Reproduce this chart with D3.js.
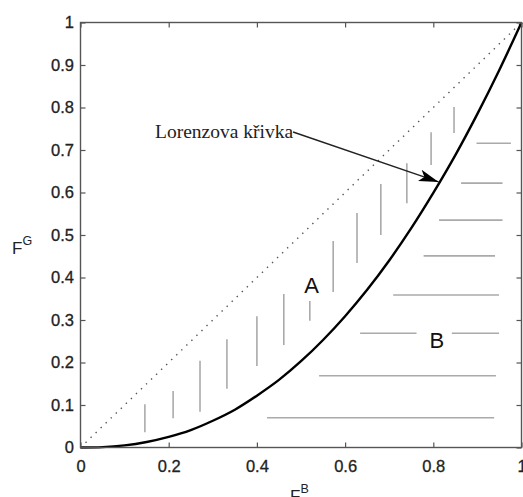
<!DOCTYPE html>
<html>
<head>
<meta charset="utf-8">
<script src="https://cdn.jsdelivr.net/npm/d3@7"></script>
<style>
  html, body { margin: 0; padding: 0; background: #fff; }
  svg { display: block; }
</style>
</head>
<body>
<svg id="chart" width="523" height="497"></svg>
<script>
// Lorenz curve: cumulative share F^B on x, F^G on y
const curveX = [0, 0.05, 0.1, 0.15, 0.2, 0.25, 0.3, 0.35, 0.4, 0.45, 0.5,
                0.55, 0.6, 0.65, 0.7, 0.75, 0.8, 0.85, 0.9, 0.95, 1];
const curveY = [0, 0.001, 0.005, 0.013, 0.025, 0.041, 0.063, 0.089, 0.122, 0.159, 0.203,
                0.253, 0.309, 0.371, 0.440, 0.516, 0.599, 0.688, 0.785, 0.889, 1];

// Equality line endpoints
const diagX = [0, 1];
const diagY = [0, 1];

// Vertical hatching of area A: x, y from, y to
const hatchAX  = [0.146, 0.210, 0.271, 0.332, 0.400, 0.461, 0.520, 0.573, 0.627, 0.681, 0.740, 0.795, 0.847];
const hatchAY0 = [0.036, 0.069, 0.084, 0.138, 0.192, 0.241, 0.298, 0.366, 0.434, 0.500, 0.575, 0.665, 0.740];
const hatchAY1 = [0.102, 0.133, 0.204, 0.255, 0.309, 0.361, 0.345, 0.486, 0.552, 0.620, 0.669, 0.742, 0.801];

// Horizontal hatching of area B: y, x from, x to
const hatchBY  = [0.716, 0.622, 0.535, 0.451, 0.359, 0.269, 0.269, 0.169, 0.070];
const hatchBX0 = [0.898, 0.863, 0.813, 0.778, 0.709, 0.634, 0.842, 0.541, 0.423];
const hatchBX1 = [0.976, 0.957, 0.957, 0.940, 0.949, 0.762, 0.949, 0.942, 0.938];

const tickValues = [0, 0.2, 0.4, 0.6, 0.8, 1];
const yTickValues = [0, 0.1, 0.2, 0.3, 0.4, 0.5, 0.6, 0.7, 0.8, 0.9, 1];

// Annotation: label text, the point on the curve it points to
const noteText = "Lorenzova křivka";
const notePoint = [0.812, 0.625];
const areaLabels = [{ t: "A", x: 0.524, y: 0.363 }, { t: "B", x: 0.808, y: 0.233 }];

const svg = d3.select("#chart");
const x = d3.scaleLinear().domain([0, 1]).range([80.5, 521.5]);
const y = d3.scaleLinear().domain([0, 1]).range([447.5, 22.5]);
const fmt = d => d3.format("~g")(d);
const axisFont = "'Liberation Sans', Arial, sans-serif";

// Hatching
const hatch = svg.append("g").attr("stroke", "#aaa").attr("stroke-width", 1.6);
hatchAX.forEach((v, i) => {
  hatch.append("line")
    .attr("x1", x(v)).attr("x2", x(v))
    .attr("y1", y(hatchAY0[i])).attr("y2", y(hatchAY1[i]));
});
hatchBY.forEach((v, i) => {
  hatch.append("line")
    .attr("x1", x(hatchBX0[i])).attr("x2", x(hatchBX1[i]))
    .attr("y1", y(v)).attr("y2", y(v));
});

// Dotted equality diagonal
svg.append("line")
  .attr("x1", x(diagX[0])).attr("y1", y(diagY[0]))
  .attr("x2", x(diagX[1])).attr("y2", y(diagY[1]))
  .attr("stroke", "#555").attr("stroke-width", 1.4)
  .attr("stroke-dasharray", "1.4,5.6");

// Lorenz curve
const line = d3.line().x(d => x(d[0])).y(d => y(d[1])).curve(d3.curveMonotoneX);
svg.append("path")
  .datum(curveX.map((v, i) => [v, curveY[i]]))
  .attr("d", line)
  .attr("fill", "none").attr("stroke", "#000").attr("stroke-width", 2.4);

// Axes with inward ticks on all four sides
function styleAxis(g) {
  g.select(".domain").remove();
  g.selectAll(".tick line").attr("stroke", "#555").attr("stroke-width", 1.2);
  g.selectAll(".tick text").attr("fill", "#222")
    .attr("stroke", "#222").attr("stroke-width", 0.3)
    .style("font-family", axisFont).style("font-size", "16.5px");
}
svg.append("g").attr("transform", `translate(0,${y(0)})`)
  .call(d3.axisBottom(x).tickValues(tickValues).tickFormat(fmt).tickSizeInner(-5).tickSizeOuter(0).tickPadding(12.5))
  .call(styleAxis);
svg.append("g").attr("transform", `translate(0,${y(1)})`)
  .call(d3.axisTop(x).tickValues(tickValues).tickFormat("").tickSizeInner(-5).tickSizeOuter(0))
  .call(styleAxis);
svg.append("g").attr("transform", `translate(${x(0)},0)`)
  .call(d3.axisLeft(y).tickValues(yTickValues).tickFormat(fmt).tickSizeInner(-5).tickSizeOuter(0).tickPadding(6.5))
  .call(styleAxis);
svg.append("g").attr("transform", `translate(${x(1)},0)`)
  .call(d3.axisRight(y).tickValues(yTickValues).tickFormat("").tickSizeInner(-5).tickSizeOuter(0))
  .call(styleAxis);

// Frame
svg.append("rect")
  .attr("x", x(0)).attr("y", y(1))
  .attr("width", x(1) - x(0)).attr("height", y(0) - y(1))
  .attr("fill", "none").attr("stroke", "#555").attr("stroke-width", 1.4);

// Axis titles with superscripts
const xt = svg.append("text").attr("x", 290).attr("y", 502)
  .style("font-family", axisFont).style("font-size", "17px").attr("fill", "#222");
xt.append("tspan").text("F");
xt.append("tspan").attr("dy", -9).style("font-size", "12.5px").text("B");

const yt = svg.append("text").attr("x", 12).attr("y", 254)
  .style("font-family", axisFont).style("font-size", "17px").attr("fill", "#222");
yt.append("tspan").text("F");
yt.append("tspan").attr("dy", -9).style("font-size", "12.5px").text("G");

// Region labels
svg.selectAll("text.area").data(areaLabels).enter().append("text")
  .attr("class", "area")
  .attr("x", d => x(d.x)).attr("y", d => y(d.y))
  .attr("text-anchor", "middle")
  .style("font-family", axisFont).style("font-size", "22px").attr("fill", "#111")
  .text(d => d.t);

// Annotation with arrow
svg.append("defs").append("marker")
  .attr("id", "arrowhead").attr("viewBox", "0 0 20 12")
  .attr("refX", 20).attr("refY", 6)
  .attr("markerWidth", 20).attr("markerHeight", 12)
  .attr("markerUnits", "userSpaceOnUse")
  .attr("orient", "auto")
  .append("path").attr("d", "M0,0 L20,6 L0,12 L5,6 Z").attr("fill", "#000");

const note = svg.append("text").attr("x", 155).attr("y", 138)
  .style("font-family", "'Liberation Serif', 'Times New Roman', serif")
  .style("font-size", "19.5px").attr("fill", "#222")
  .text(noteText);
const noteEnd = 155 + note.node().getComputedTextLength();
svg.append("line")
  .attr("x1", noteEnd).attr("y1", 132)
  .attr("x2", x(notePoint[0])).attr("y2", y(notePoint[1]))
  .attr("stroke", "#222").attr("stroke-width", 1.4)
  .attr("marker-end", "url(#arrowhead)");
</script>
</body>
</html>
